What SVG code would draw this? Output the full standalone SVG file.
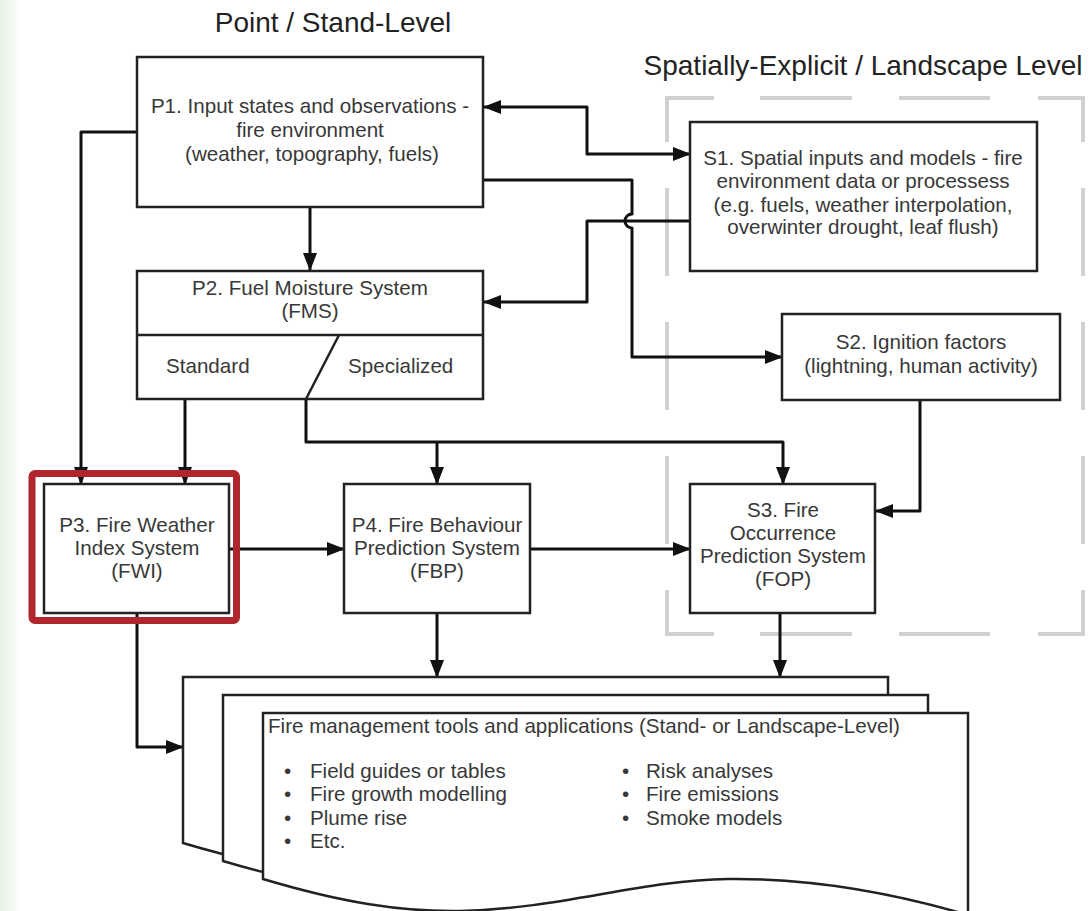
<svg xmlns="http://www.w3.org/2000/svg" width="1090" height="911" viewBox="0 0 1090 911">
<defs>
<style>
.bg{fill:#ffffff}
.box{fill:#ffffff;stroke:#222;stroke-width:2.5}
.t{font-family:"Liberation Sans",Arial,sans-serif;font-size:20.6px;fill:#383838;text-anchor:middle}
.tl{font-family:"Liberation Sans",Arial,sans-serif;font-size:20.6px;fill:#383838}
.title{font-family:"Liberation Sans",Arial,sans-serif;font-size:28px;fill:#222;text-anchor:middle}
.c{fill:none;stroke:#111;stroke-width:3;stroke-linejoin:round}
.dash{fill:none;stroke:#d0d0d0;stroke-width:4}
.page{fill:#fff;stroke:#222;stroke-width:2.5}
</style>
<marker id="ah" viewBox="0 0 18 14" refX="17" refY="7" markerWidth="18" markerHeight="14" markerUnits="userSpaceOnUse" orient="auto-start-reverse">
<path d="M0,0 L18,7 L0,14 z" fill="#111"/>
</marker>
<linearGradient id="edge" x1="0" y1="0" x2="1" y2="0">
<stop offset="0" stop-color="#e6f2e1"/>
<stop offset="1" stop-color="#ffffff"/>
</linearGradient>
<path id="pg" d="M263,713 H968 V915 C900,895 820,878 728,879 C640,880 560,909 460,911 C400,912 340,902 263,879 Z"/>
</defs>
<rect class="bg" x="0" y="0" width="1090" height="911"/>
<rect x="0" y="0" width="22" height="911" fill="url(#edge)"/>

<g id="titles">
<text class="title" x="333" y="32">Point / Stand-Level</text>
<text class="title" x="863" y="75">Spatially-Explicit / Landscape Level</text>
</g>

<g id="landscape-frame">
<path class="dash" d="M667,142 V98 H714 M760,98 H852 M899,98 H990 M1038,98 H1083 V142 M1083,188 V276 M1083,322 V410 M1083,456 V544 M1083,590 V634 H1038 M990,634 H899 M852,634 H760 M714,634 H667 V590 M667,544 V456 M667,410 V322 M667,276 V188"/>
</g>

<g id="connectors">
<path class="c" d="M137,132 H81 V484" marker-end="url(#ah)"/>
<path class="c" d="M185,399 V484" marker-end="url(#ah)"/>
<path class="c" d="M310,207 V270" marker-end="url(#ah)"/>
<path class="c" d="M484,107 H587 V154 H690" marker-start="url(#ah)" marker-end="url(#ah)"/>
<path class="c" d="M690,221 H587 V302 H484" marker-end="url(#ah)"/>
<path class="c" d="M483,180 H632 V214 A7,7 0 0 0 632,228 V357 H782" marker-end="url(#ah)"/>
<path class="c" d="M306,399 V442 H783 V484" marker-end="url(#ah)"/>
<path class="c" d="M437,442 V484" marker-end="url(#ah)"/>
<path class="c" d="M920,400 V511 H876" marker-end="url(#ah)"/>
<path class="c" d="M229,549 H344" marker-end="url(#ah)"/>
<path class="c" d="M530,549 H690" marker-end="url(#ah)"/>
<path class="c" d="M437,613 V677" marker-end="url(#ah)"/>
<path class="c" d="M780,613 V677" marker-end="url(#ah)"/>
<path class="c" d="M137,613 V747 H183" marker-end="url(#ah)"/>
</g>

<g id="P1">
<rect class="box" x="137" y="57" width="346" height="150"/>
<text class="t" x="310" y="113">P1. Input states and observations -</text>
<text class="t" x="310" y="137">fire environment</text>
<text class="t" x="312" y="161">(weather, topography, fuels)</text>
</g>

<g id="P2">
<rect class="box" x="137" y="271" width="346" height="128"/>
<line x1="137" y1="335" x2="483" y2="335" stroke="#222" stroke-width="2.5"/>
<line x1="339" y1="335" x2="306" y2="399" stroke="#222" stroke-width="2.5"/>
<text class="t" x="310" y="295">P2. Fuel Moisture System</text>
<text class="t" x="310" y="318">(FMS)</text>
<text class="tl" x="166" y="373">Standard</text>
<text class="tl" x="348" y="373">Specialized</text>
</g>

<g id="S1">
<rect class="box" x="690" y="122" width="347" height="149"/>
<text class="t" x="863" y="165">S1. Spatial inputs and models - fire</text>
<text class="t" x="863" y="188">environment data or processess</text>
<text class="t" x="863" y="212">(e.g. fuels, weather interpolation,</text>
<text class="t" x="863" y="234">overwinter drought, leaf flush)</text>
</g>

<g id="S2">
<rect class="box" x="782" y="314" width="278" height="86"/>
<text class="t" x="921" y="349">S2. Ignition factors</text>
<text class="t" x="921" y="373">(lightning, human activity)</text>
</g>

<g id="P3">
<rect class="box" x="44" y="484" width="185" height="129"/>
<text class="t" x="137" y="532">P3. Fire Weather</text>
<text class="t" x="137" y="555">Index System</text>
<text class="t" x="137" y="578">(FWI)</text>
<rect x="32" y="473.5" width="204.5" height="147" rx="3" fill="none" stroke="#b0262c" stroke-width="7"/>
</g>

<g id="P4">
<rect class="box" x="344" y="484" width="186" height="129"/>
<text class="t" x="437" y="532">P4. Fire Behaviour</text>
<text class="t" x="437" y="555">Prediction System</text>
<text class="t" x="437" y="578">(FBP)</text>
</g>

<g id="S3">
<rect class="box" x="690" y="484" width="185" height="129"/>
<text class="t" x="783" y="517">S3. Fire</text>
<text class="t" x="783" y="540">Occurrence</text>
<text class="t" x="783" y="563">Prediction System</text>
<text class="t" x="783" y="586">(FOP)</text>
</g>

<g id="tools">
<use href="#pg" class="page" transform="translate(-80,-36)"/>
<use href="#pg" class="page" transform="translate(-40,-18)"/>
<use href="#pg" class="page"/>
<text class="tl" x="268" y="733">Fire management tools and applications (Stand- or Landscape-Level)</text>
<text class="tl" x="284" y="778">•</text><text class="tl" x="310" y="778">Field guides or tables</text>
<text class="tl" x="284" y="801">•</text><text class="tl" x="310" y="801">Fire growth modelling</text>
<text class="tl" x="284" y="825">•</text><text class="tl" x="310" y="825">Plume rise</text>
<text class="tl" x="284" y="848">•</text><text class="tl" x="310" y="848">Etc.</text>
<text class="tl" x="622" y="778">•</text><text class="tl" x="646" y="778">Risk analyses</text>
<text class="tl" x="622" y="801">•</text><text class="tl" x="646" y="801">Fire emissions</text>
<text class="tl" x="622" y="825">•</text><text class="tl" x="646" y="825">Smoke models</text>
</g>
</svg>
